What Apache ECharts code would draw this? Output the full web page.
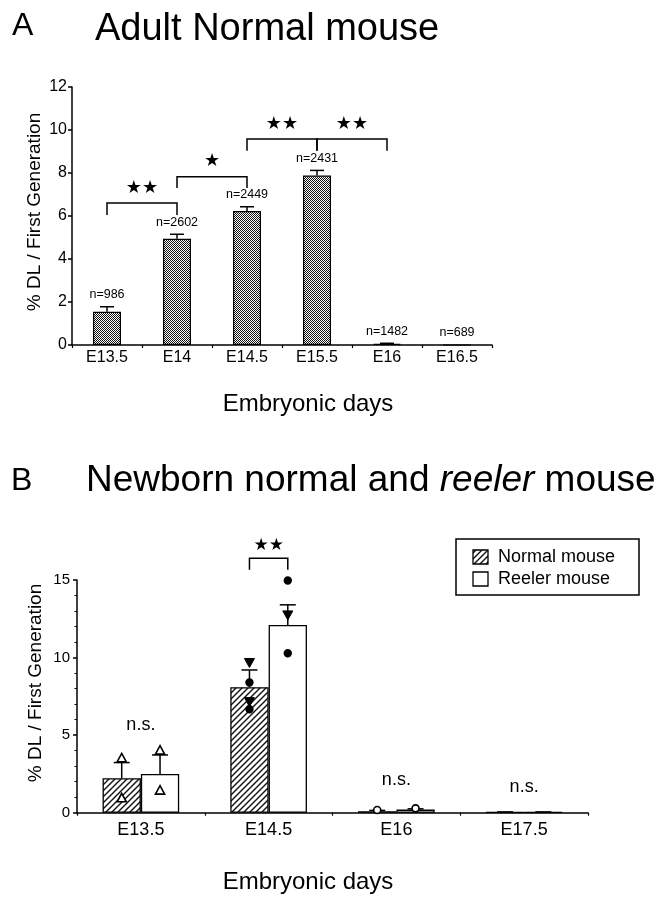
<!DOCTYPE html>
<html>
<head>
<meta charset="utf-8">
<script src="https://cdn.jsdelivr.net/npm/echarts@6/dist/echarts.min.js"></script>
<style>html,body{margin:0;padding:0;background:#fff;}#c{width:662px;height:899px;}</style>
</head>
<body>
<div id="c"></div>
<script>
// ---------- Data ----------
const catsA = ['E13.5', 'E14', 'E14.5', 'E15.5', 'E16', 'E16.5'];
const meanA = [1.55, 4.94, 6.23, 7.88, 0.05, 0];
const errTopA = [1.78, 5.15, 6.43, 8.12, 0.08, 0];
const nLabelsA = ['n=986', 'n=2602', 'n=2449', 'n=2431', 'n=1482', 'n=689'];
// [from category, to category, bracket top, bracket end]
const bracketsA = [[0, 1, 6.6, 6.05], [1, 2, 7.83, 7.3], [2, 3, 9.58, 9.04], [3, 4, 9.58, 9.04]];
const bracketStarsA = ['★★', '★', '★★', '★★'];
const yTicksA = [0, 2, 4, 6, 8, 10, 12];

const catsB = ['E13.5', 'E14.5', 'E16', 'E17.5'];
const normalB = [2.22, 8.09, 0.1, 0.03];
const reelerB = [2.5, 12.1, 0.2, 0.03];
const normalErrTopB = [3.23, 9.2, 0.15, 0.05];
const reelerErrTopB = [3.72, 13.4, 0.25, 0.05];
// individual points: [category, value]
const normalPts = [[0, 3.5], [0, 0.93], [1, 9.68], [1, 8.39], [1, 7.16], [1, 6.67], [2, 0.17]];
const normalPtKinds = ['triOpen', 'triOpen', 'triDown', 'dot', 'triDown', 'dot', 'circleOpen'];
const reelerPts = [[0, 4.0], [0, 1.42], [1, 14.97], [1, 12.75], [1, 10.28], [2, 0.28]];
const reelerPtKinds = ['triOpen', 'triOpen', 'dot', 'triDown', 'dot', 'circleOpen'];
const nsB = [[0, 5.66], [2, 2.1], [3, 1.68]];
const bracketB = [[1, 16.4, 15.66]];
const bracketStarsB = ['★★'];
const seriesNamesB = ['Normal mouse', 'Reeler mouse'];

// ---------- Patterns ----------
function checker() {
  const c = document.createElement('canvas'); c.width = 2; c.height = 2;
  const g = c.getContext('2d');
  g.fillStyle = '#fff'; g.fillRect(0, 0, 2, 2);
  g.fillStyle = '#111'; g.fillRect(0, 0, 1, 1); g.fillRect(1, 1, 1, 1);
  return c;
}
function hatch() {
  const s = 6;
  const c = document.createElement('canvas'); c.width = s; c.height = s;
  const g = c.getContext('2d');
  g.fillStyle = '#fff'; g.fillRect(0, 0, s, s);
  g.strokeStyle = '#111'; g.lineWidth = 1.4;
  g.beginPath();
  g.moveTo(0, s); g.lineTo(s, 0);
  g.moveTo(-1, 1); g.lineTo(1, -1);
  g.moveTo(s - 1, s + 1); g.lineTo(s + 1, s - 1);
  g.stroke();
  return c;
}
const checkPat = { image: checker(), repeat: 'repeat' };
const hatchPat = { image: hatch(), repeat: 'repeat' };

const FONT = '"Liberation Sans", Arial, Helvetica, sans-serif';
const STARFONT = '"DejaVu Sans", sans-serif';
const LW = 1.5;

// ---------- Render helpers ----------
function errA(params, api) {
  const i = params.dataIndex;
  const x = api.coord([i, 0])[0];
  const yM = api.coord([i, meanA[i]])[1];
  const yE = api.coord([i, errTopA[i]])[1];
  const ch = [];
  if (errTopA[i] > meanA[i]) {
    ch.push({ type: 'line', shape: { x1: x, y1: yM, x2: x, y2: yE }, style: { stroke: '#000', lineWidth: LW } });
    ch.push({ type: 'line', shape: { x1: x - 7, y1: yE, x2: x + 7, y2: yE }, style: { stroke: '#000', lineWidth: LW } });
  }
  ch.push({ type: 'text', style: { text: nLabelsA[i], x: x, y: yE - 12, fill: '#000', font: '12.5px ' + FONT, align: 'center', verticalAlign: 'middle' } });
  return { type: 'group', children: ch };
}
function bracketRender(brs, stars, offsetFn, gap, starSize) {
  return function (params, api) {
    const b = brs[params.dataIndex];
    let x1, x2, yT, yE;
    if (b.length === 4) {
      x1 = api.coord([b[0], b[2]])[0]; x2 = api.coord([b[1], b[2]])[0];
      yT = api.coord([b[0], b[2]])[1]; yE = api.coord([b[0], b[3]])[1];
    } else {
      const c = api.coord([b[0], b[1]]);
      const off = offsetFn(api);
      x1 = c[0] - off; x2 = c[0] + off; yT = c[1]; yE = api.coord([b[0], b[2]])[1];
    }
    return {
      type: 'group', children: [
        { type: 'polyline', shape: { points: [[x1, yE], [x1, yT], [x2, yT], [x2, yE]] }, style: { stroke: '#000', lineWidth: LW, fill: null } },
        { type: 'text', style: { text: stars[params.dataIndex], x: (x1 + x2) / 2, y: yT - gap, fill: '#000', font: starSize + 'px ' + STARFONT, align: 'center', verticalAlign: 'middle' } }
      ]
    };
  };
}
function barOffset(api) { return api.size([1, 0])[0] * 0.15; }
function errB(means, tops, sign) {
  return function (params, api) {
    const i = params.dataIndex;
    const x = api.coord([i, 0])[0] + sign * barOffset(api);
    const yM = api.coord([i, means[i]])[1];
    const yE = api.coord([i, tops[i]])[1];
    return {
      type: 'group', children: [
        { type: 'line', shape: { x1: x, y1: yM, x2: x, y2: yE }, style: { stroke: '#000', lineWidth: LW } },
        { type: 'line', shape: { x1: x - 8, y1: yE, x2: x + 8, y2: yE }, style: { stroke: '#000', lineWidth: LW } }
      ]
    };
  };
}
function ptsB(pts, kinds, sign) {
  return function (params, api) {
    const p = pts[params.dataIndex];
    const c = api.coord([p[0], p[1]]);
    const x = c[0] + sign * barOffset(api), y = c[1];
    const k = kinds[params.dataIndex];
    if (k === 'triOpen') {
      return { type: 'polygon', shape: { points: [[x, y - 5], [x + 4.6, y + 3.5], [x - 4.6, y + 3.5]] }, style: { fill: '#fff', stroke: '#000', lineWidth: 1.6 } };
    }
    if (k === 'triDown') {
      return { type: 'polygon', shape: { points: [[x - 5, y - 4], [x + 5, y - 4], [x, y + 5]] }, style: { fill: '#000', stroke: '#000', lineWidth: 1 } };
    }
    if (k === 'dot') {
      return { type: 'circle', shape: { cx: x, cy: y, r: 4.2 }, style: { fill: '#000' } };
    }
    return { type: 'circle', shape: { cx: x, cy: y, r: 3.5 }, style: { fill: '#fff', stroke: '#000', lineWidth: 1.6 } };
  };
}
function nsRender(params, api) {
  const p = nsB[params.dataIndex];
  const c = api.coord([p[0], p[1]]);
  return { type: 'text', style: { text: 'n.s.', x: c[0], y: c[1], fill: '#000', font: '18px ' + FONT, align: 'center', verticalAlign: 'middle' } };
}

const axisLineStyle = { show: true, lineStyle: { color: '#000', width: LW } };

const option = {
  animation: false,
  backgroundColor: '#fff',
  textStyle: { fontFamily: FONT },
  grid: [
    { left: 72, top: 87, width: 420, height: 258 },
    { left: 77, top: 580, width: 511, height: 232.7 }
  ],
  xAxis: [
    { type: 'category', gridIndex: 0, data: catsA, axisLine: axisLineStyle,
      axisTick: { show: true, length: 3, inside: false, lineStyle: { color: '#000', width: 1.2 } },
      axisLabel: { color: '#000', fontSize: 16, margin: 5, fontFamily: FONT }, splitLine: { show: false } },
    { type: 'category', gridIndex: 1, data: catsB, axisLine: axisLineStyle,
      axisTick: { show: true, length: 3, lineStyle: { color: '#000', width: 1.2 } },
      axisLabel: { color: '#000', fontSize: 18, margin: 8, fontFamily: FONT }, splitLine: { show: false } }
  ],
  yAxis: [
    { type: 'value', gridIndex: 0, min: yTicksA[0], max: yTicksA[yTicksA.length - 1], interval: 2, axisLine: axisLineStyle,
      axisTick: { show: true, length: 4, lineStyle: { color: '#000', width: LW } },
      axisLabel: { color: '#000', fontSize: 16, margin: 5, fontFamily: FONT }, splitLine: { show: false } },
    { type: 'value', gridIndex: 1, min: 0, max: 15, interval: 5, axisLine: axisLineStyle,
      axisTick: { show: true, length: 4, lineStyle: { color: '#000', width: LW } },
      minorTick: { show: true, splitNumber: 5, length: 2.5, lineStyle: { color: '#000', width: 1 } },
      axisLabel: { color: '#000', fontSize: 15, margin: 7, fontFamily: FONT }, splitLine: { show: false } }
  ],
  series: [
    { type: 'bar', xAxisIndex: 0, yAxisIndex: 0, data: meanA, barWidth: '40%',
      itemStyle: { color: checkPat, borderColor: '#000', borderWidth: 1.2 } },
    { type: 'custom', xAxisIndex: 0, yAxisIndex: 0, data: errTopA.map((v, i) => [i, v]), renderItem: errA, z: 5 },
    { type: 'custom', xAxisIndex: 0, yAxisIndex: 0, data: bracketsA, renderItem: bracketRender(bracketsA, bracketStarsA, null, 15, 18), z: 5 },

    { type: 'bar', name: seriesNamesB[0], xAxisIndex: 1, yAxisIndex: 1, data: normalB, barWidth: '30%', barGap: '0%',
      itemStyle: { color: hatchPat, borderColor: '#000', borderWidth: 1.3 } },
    { type: 'bar', name: seriesNamesB[1], xAxisIndex: 1, yAxisIndex: 1, data: reelerB, barWidth: '30%', barGap: '0%',
      itemStyle: { color: '#fff', borderColor: '#000', borderWidth: 1.3 } },
    { type: 'custom', xAxisIndex: 1, yAxisIndex: 1, data: normalErrTopB.map((v, i) => [i, v]), renderItem: errB(normalB, normalErrTopB, -1), z: 5 },
    { type: 'custom', xAxisIndex: 1, yAxisIndex: 1, data: reelerErrTopB.map((v, i) => [i, v]), renderItem: errB(reelerB, reelerErrTopB, 1), z: 5 },
    { type: 'custom', xAxisIndex: 1, yAxisIndex: 1, data: normalPts, renderItem: ptsB(normalPts, normalPtKinds, -1), z: 6 },
    { type: 'custom', xAxisIndex: 1, yAxisIndex: 1, data: reelerPts, renderItem: ptsB(reelerPts, reelerPtKinds, 1), z: 6 },
    { type: 'custom', xAxisIndex: 1, yAxisIndex: 1, data: nsB, renderItem: nsRender, z: 6 },
    { type: 'custom', xAxisIndex: 1, yAxisIndex: 1, data: bracketB, renderItem: bracketRender(bracketB, bracketStarsB, barOffset, 13, 17), z: 6, clip: false }
  ],
  graphic: [
    { type: 'text', left: 12, top: 10, style: { text: 'A', font: '32px ' + FONT, fill: '#000' } },
    { type: 'text', left: 95, top: 11, style: { text: 'Adult Normal mouse', font: '38px ' + FONT, fill: '#000' } },
    { type: 'text', x: 308, y: 404, style: { text: 'Embryonic days', font: '24px ' + FONT, fill: '#000', align: 'center', verticalAlign: 'middle' } },
    { type: 'text', x: 35, y: 212, rotation: Math.PI / 2, style: { text: '% DL / First Generation', font: '19px ' + FONT, fill: '#000', align: 'center', verticalAlign: 'middle' } },

    { type: 'text', left: 11, top: 465, style: { text: 'B', font: '32px ' + FONT, fill: '#000' } },
    { type: 'text', left: 86, top: 462, style: {
        text: '{n|Newborn normal and }{i|reeler}{n| mouse}',
        rich: { n: { font: '37px ' + FONT, fill: '#000' }, i: { font: 'italic 37px ' + FONT, fill: '#000' } } } },
    { type: 'text', x: 308, y: 882, style: { text: 'Embryonic days', font: '24px ' + FONT, fill: '#000', align: 'center', verticalAlign: 'middle' } },
    { type: 'text', x: 36, y: 683, rotation: Math.PI / 2, style: { text: '% DL / First Generation', font: '19px ' + FONT, fill: '#000', align: 'center', verticalAlign: 'middle' } },

    { type: 'rect', shape: { x: 456, y: 539, width: 183, height: 56 }, style: { fill: '#fff', stroke: '#000', lineWidth: 1.5 } },
    { type: 'rect', shape: { x: 473, y: 550, width: 15, height: 14 }, style: { fill: hatchPat, stroke: '#000', lineWidth: 1.3 } },
    { type: 'rect', shape: { x: 473, y: 572, width: 15, height: 14 }, style: { fill: '#fff', stroke: '#000', lineWidth: 1.3 } },
    { type: 'text', x: 498, y: 557, style: { text: seriesNamesB[0], font: '18px ' + FONT, fill: '#000', verticalAlign: 'middle' } },
    { type: 'text', x: 498, y: 579, style: { text: seriesNamesB[1], font: '18px ' + FONT, fill: '#000', verticalAlign: 'middle' } }
  ]
};

const chart = echarts.init(document.getElementById('c'));
chart.setOption(option);
</script>
</body>
</html>
